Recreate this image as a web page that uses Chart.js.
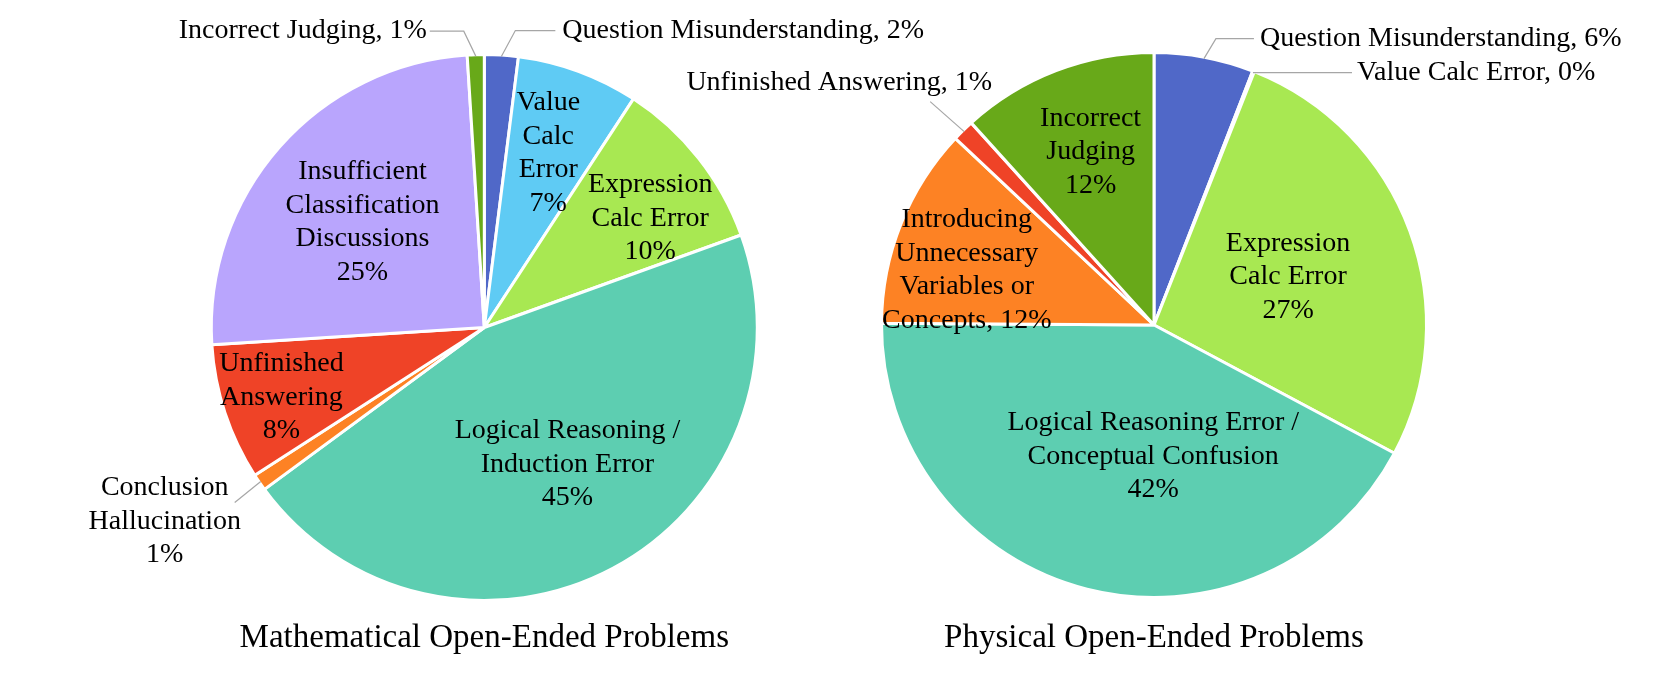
<!DOCTYPE html>
<html>
<head>
<meta charset="utf-8">
<title>Error type distribution</title>
<script src="https://cdn.jsdelivr.net/npm/chart.js@4.4.1/dist/chart.umd.min.js"></script>
<style>
  html, body { margin: 0; padding: 0; background: #fff; }
  #wrap { position: relative; width: 1661px; height: 677px; overflow: hidden; }
  #wrap canvas { position: absolute; left: 0; top: 0; }
</style>
</head>
<body>
<div id="wrap">
  <canvas id="mathChart" width="1661" height="677"></canvas>
  <canvas id="physChart" width="1661" height="677"></canvas>
</div>
<script>
// ---- data: mathematical open-ended problems (clockwise from 12 o'clock) ----
const mathCategories = [
    'Question Misunderstanding', 'Value Calc Error', 'Expression Calc Error',
    'Logical Reasoning / Induction Error', 'Conclusion Hallucination',
    'Unfinished Answering', 'Insufficient Classification Discussions', 'Incorrect Judging'
];
const mathValues = [2.0, 7.2, 10.3, 45.4, 1.0, 8.1, 25.0, 1.0];
const mathLabelLines = [
    ['Question Misunderstanding, {p}'],
    ['Value', 'Calc', 'Error', '{p}'],
    ['Expression', 'Calc Error', '{p}'],
    ['Logical Reasoning /', 'Induction Error', '{p}'],
    ['Conclusion', 'Hallucination', '{p}'],
    ['Unfinished', 'Answering', '{p}'],
    ['Insufficient', 'Classification', 'Discussions', '{p}'],
    ['Incorrect Judging, {p}']
];

// ---- data: physical open-ended problems ----
const physCategories = [
    'Question Misunderstanding', 'Value Calc Error', 'Expression Calc Error',
    'Logical Reasoning Error / Conceptual Confusion',
    'Introducing Unnecessary Variables or Concepts', 'Unfinished Answering', 'Incorrect Judging'
];
const physValues = [5.9, 0.1, 26.8, 42.3, 11.9, 1.3, 11.7];
const physLabelLines = [
    ['Question Misunderstanding, {p}'],
    ['Value Calc Error, {p}'],
    ['Expression', 'Calc Error', '{p}'],
    ['Logical Reasoning Error /', 'Conceptual Confusion', '{p}'],
    ['Introducing', 'Unnecessary', 'Variables or', 'Concepts, {p}'],
    ['Unfinished Answering, {p}'],
    ['Incorrect', 'Judging', '{p}']
];

const chartTitles = ['Mathematical Open-Ended Problems', 'Physical Open-Ended Problems'];

// colours per category name
const COLORS = {
    'Question Misunderstanding': '#5068C8',
    'Value Calc Error': '#5FCBF4',
    'Expression Calc Error': '#A8E852',
    'Logical Reasoning / Induction Error': '#5DCEB1',
    'Logical Reasoning Error / Conceptual Confusion': '#5DCEB1',
    'Conclusion Hallucination': '#FD8224',
    'Introducing Unnecessary Variables or Concepts': '#FD8224',
    'Unfinished Answering': '#EF4327',
    'Insufficient Classification Discussions': '#B9A5FD',
    'Incorrect Judging': '#68A919'
};

const FONT = '"Liberation Serif", "Times New Roman", serif';

// label placement: 'in' = inside the slice, 'out' = outside with leader line
const mathPlacement = [
    { type: 'out', elbow: [14, -26], run: 40, textOff: [7, 0], align: 'left' },
    { type: 'in', f: 0.68 },
    { type: 'in', f: 0.728, nudge: [10, 14] },
    { type: 'in', f: 0.585, nudge: [8, -4] },
    { type: 'out', elbow: [-26, 21], run: 0, textOff: [-70, 19], align: 'center' },
    { type: 'in', f: 0.786, nudge: [1, 3] },
    { type: 'in', f: 0.595, nudge: [0, 2] },
    { type: 'out', elbow: [-12, -25], run: -34, textOff: [-3, 0], align: 'right' }
];
const physPlacement = [
    { type: 'out', elbow: [12, -20], run: 38, textOff: [6, 0], align: 'left' },
    { type: 'out', elbow: [0, 0], run: 99, textOff: [5, 0], align: 'left' },
    { type: 'in', f: 0.524, nudge: [0, 1] },
    { type: 'in', f: 0.46, nudge: [30, 10] },
    { type: 'in', f: 0.72, nudge: [-5, 18] },
    { type: 'out', elbow: [-34, -30], run: 0, textOff: [-91, -19], align: 'center' },
    { type: 'in', f: 0.688, nudge: [4, 2] }
];

function drawBlock(ctx, lines, cx, cy, align, lh) {
    ctx.textAlign = align;
    const top = cy - (lines.length - 1) * lh / 2;
    lines.forEach((s, k) => ctx.fillText(s, cx, top + k * lh));
}

// draws slice labels and leader lines from the arc geometry
const sliceLabels = {
    id: 'sliceLabels',
    afterDatasetsDraw(chart, args, opts) {
        const ctx = chart.ctx;
        const meta = chart.getDatasetMeta(0);
        const values = chart.data.datasets[0].data;
        ctx.save();
        ctx.font = opts.fontSize + 'px ' + FONT;
        ctx.fillStyle = '#000';
        ctx.textBaseline = 'middle';
        ctx.strokeStyle = '#a6a6a6';
        ctx.lineWidth = 1.2;
        meta.data.forEach((arc, i) => {
            const p = arc.getProps(['x', 'y', 'startAngle', 'endAngle', 'outerRadius'], true);
            const mid = (p.startAngle + p.endAngle) / 2;
            const cos = Math.cos(mid), sin = Math.sin(mid);
            const pct = Math.round(values[i]) + '%';
            const lines = opts.lines[i].map(s => s.replace('{p}', pct));
            const spec = opts.placement[i];
            if (spec.type === 'in') {
                const r = p.outerRadius * spec.f;
                const nx = spec.nudge ? spec.nudge[0] : 0;
                const ny = spec.nudge ? spec.nudge[1] : 0;
                drawBlock(ctx, lines, p.x + cos * r + nx, p.y + sin * r + ny, 'center', opts.lineHeight);
            } else {
                const r = p.outerRadius - 1.5;
                const ex = p.x + cos * r, ey = p.y + sin * r;
                const bx = ex + spec.elbow[0], by = ey + spec.elbow[1];
                const hx = bx + spec.run;
                ctx.beginPath();
                ctx.moveTo(ex, ey);
                ctx.lineTo(bx, by);
                ctx.lineTo(hx, by);
                ctx.stroke();
                drawBlock(ctx, lines, hx + spec.textOff[0], by + spec.textOff[1], spec.align, opts.lineHeight);
            }
        });
        ctx.restore();
    }
};

function buildPie(canvasId, categories, values, lines, placement, title, padding, titlePad) {
    return new Chart(document.getElementById(canvasId), {
        type: 'pie',
        data: {
            labels: categories,
            datasets: [{
                data: values,
                backgroundColor: categories.map(c => COLORS[c]),
                borderColor: '#ffffff',
                borderWidth: 3,
                hoverOffset: 0
            }]
        },
        options: {
            responsive: false,
            animation: false,
            devicePixelRatio: 1,
            layout: { padding: padding },
            events: [],
            plugins: {
                legend: { display: false },
                tooltip: { enabled: false },
                title: {
                    display: true,
                    position: 'bottom',
                    text: title,
                    color: '#000',
                    font: { family: FONT, size: 33, weight: 'normal', lineHeight: 1.2 },
                    padding: titlePad
                },
                sliceLabels: { lines: lines, placement: placement, fontSize: 28, lineHeight: 33.5 }
            }
        },
        plugins: [sliceLabels]
    });
}

buildPie('mathChart', mathCategories, mathValues, mathLabelLines, mathPlacement, chartTitles[0],
    { top: 53, bottom: 0, left: 209.8, right: 902.2 }, { top: 16.2, bottom: 19.2 });
buildPie('physChart', physCategories, physValues, physLabelLines, physPlacement, chartTitles[1],
    { top: 51, bottom: 0, left: 880, right: 233 }, { top: 19.2, bottom: 19.2 });
</script>
</body>
</html>
